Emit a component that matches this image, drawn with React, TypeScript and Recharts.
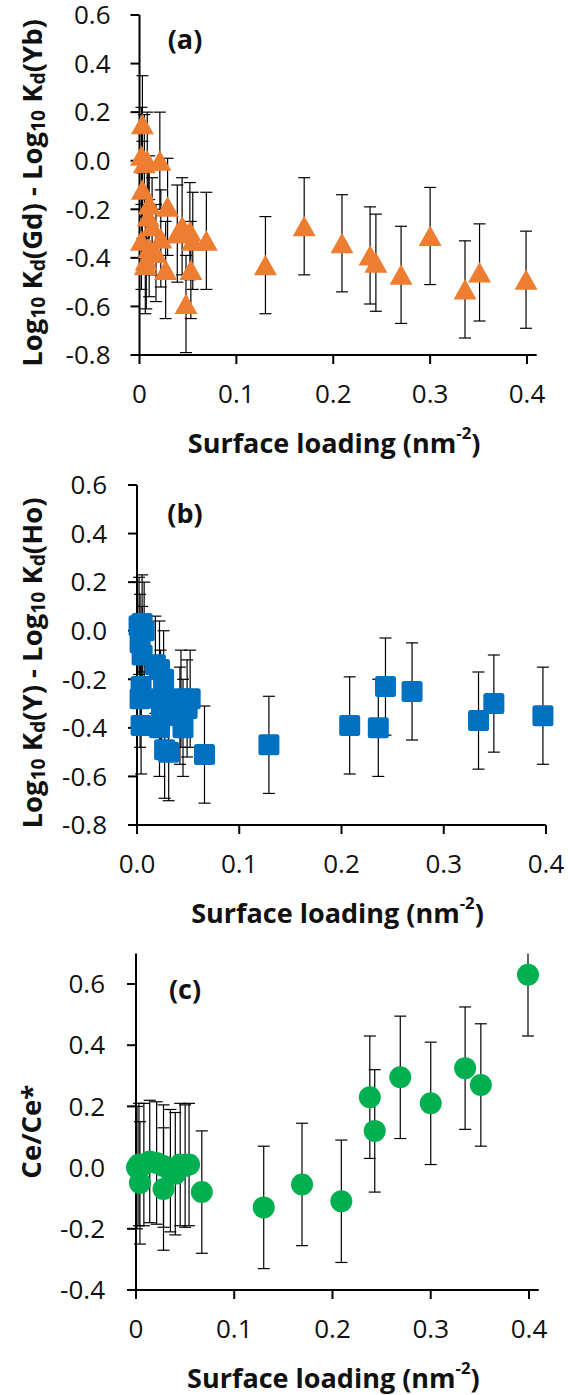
import React from "react";
import { ErrorBar, Label, Scatter, ScatterChart, XAxis, YAxis } from "recharts";

// half-width of every error bar, same for all three panels
const errorBar = 0.2;

// (a) Log10 Kd(Gd) - Log10 Kd(Yb)
const gdYbLoading = [
  0.003, 0.002, 0.005, 0.008, 0.021, 0.003, 0.01, 0.029, 0.009, 0.013, 0.002, 0.039, 0.044, 0.052, 0.055, 0.069,
  0.022, 0.01, 0.017, 0.007, 0.006, 0.027, 0.053, 0.048, 0.13, 0.17, 0.209, 0.238, 0.244, 0.27, 0.3, 0.336, 0.351,
  0.399
];
const gdYbValue = [
  0.15, 0.02, -0.01, 0.0, 0.0, -0.12, -0.18, -0.19, -0.23, -0.27, -0.33, -0.3, -0.27, -0.29, -0.33, -0.33, -0.32,
  -0.36, -0.38, -0.41, -0.43, -0.45, -0.45, -0.59, -0.43, -0.27, -0.34, -0.39, -0.42, -0.47, -0.31, -0.53, -0.46,
  -0.49
];

// (b) Log10 Kd(Y) - Log10 Kd(Ho)
const yHoLoading = [
  0.002, 0.005, 0.007, 0.003, 0.005, 0.018, 0.022, 0.026, 0.004, 0.003, 0.023, 0.043, 0.052, 0.049, 0.024, 0.042,
  0.004, 0.022, 0.045, 0.027, 0.031, 0.066, 0.129, 0.208, 0.236, 0.243, 0.269, 0.334, 0.349, 0.397
];
const yHoValue = [
  0.02, 0.03, 0.0, -0.05, -0.1, -0.14, -0.16, -0.2, -0.23, -0.28, -0.28, -0.28, -0.28, -0.32, -0.32, -0.35, -0.39,
  -0.4, -0.4, -0.49, -0.5, -0.51, -0.47, -0.39, -0.4, -0.23, -0.25, -0.37, -0.3, -0.35
];

// (c) Ce/Ce*
const ceLoading = [
  0.001, 0.003, 0.004, 0.008, 0.014, 0.021, 0.028, 0.028, 0.035, 0.04, 0.045, 0.05, 0.054, 0.067, 0.13, 0.169, 0.209,
  0.238, 0.243, 0.269, 0.3, 0.335, 0.351, 0.399
];
const ceValue = [
  0.0, 0.01, -0.05, 0.01, 0.02, 0.015, 0.005, -0.07, -0.01, -0.02, 0.01, 0.005, 0.01, -0.08, -0.13, -0.055, -0.11,
  0.23, 0.12, 0.295, 0.21, 0.325, 0.27, 0.63
];

const loadingTicks = [0, 0.1, 0.2, 0.3, 0.4];
const kdTicks = [-0.8, -0.6, -0.4, -0.2, 0, 0.2, 0.4, 0.6];
const ceTicks = [-0.4, -0.2, 0, 0.2, 0.4, 0.6];
const ceAxisTop = 0.7;

const font = "'Open Sans', sans-serif";
const ink = "#111";

const gdYbData = gdYbLoading.map((x, i) => ({ x, y: gdYbValue[i], err: errorBar }));
const yHoData = yHoLoading.map((x, i) => ({ x, y: yHoValue[i], err: errorBar }));
// the top of a bar is cut off by the end of the y axis (no cap there)
const ceData = ceLoading.map((x, i) => {
  const y = ceValue[i];
  const cut = y + errorBar > ceAxisTop;
  return {
    x,
    y,
    err: [errorBar, cut ? 0 : errorBar],
    errCut: [0, cut ? ceAxisTop - y : 0]
  };
});

const Triangle = (props: any) => {
  const { cx, cy } = props;
  if (cx == null || cy == null) return null;
  return <polygon points={`${cx},${cy - 10.5} ${cx + 11.5},${cy + 10} ${cx - 11.5},${cy + 10}`} fill="#ED7D31" />;
};

const Square = (props: any) => {
  const { cx, cy } = props;
  if (cx == null || cy == null) return null;
  return <rect x={cx - 10.5} y={cy - 10.5} width={21} height={21} rx={2.5} fill="#0070C0" />;
};

const Dot = (props: any) => {
  const { cx, cy } = props;
  if (cx == null || cy == null) return null;
  return <circle cx={cx} cy={cy} r={11} fill="#00B050" />;
};

const yTitle = (parts: React.ReactNode, shift: number) => (props: any) => {
  const vb = props.viewBox || {};
  const cx = 31;
  const cy = (vb.y ?? 0) + (vb.height ?? 0) / 2 + shift;
  return (
    <text
      x={cx}
      y={cy}
      transform={`rotate(-90 ${cx} ${cy})`}
      textAnchor="middle"
      dominantBaseline="central"
      fontFamily={font}
      fontWeight={700}
      fontSize={27.5}
      fill={ink}
    >
      {parts}
    </text>
  );
};

const xTitle = (props: any) => {
  const vb = props.viewBox || {};
  const cx = (vb.x ?? 0) + (vb.width ?? 0) / 2 - 4;
  const cy = (vb.y ?? 0) + 87;
  return (
    <text x={cx} y={cy} textAnchor="middle" dominantBaseline="central" fontFamily={font} fontWeight={700} fontSize={27} fill={ink}>
      Surface loading (nm
      <tspan fontSize="0.62em" dy={-10}>
        -2
      </tspan>
      <tspan dy={10}>)</tspan>
    </text>
  );
};

const kdGdYb = (
  <>
    Log
    <tspan fontSize="0.7em" dy={6}>10</tspan>
    <tspan dy={-6}> K</tspan>
    <tspan fontSize="0.7em" dy={6}>d</tspan>
    <tspan dy={-6}>(Gd) - Log</tspan>
    <tspan fontSize="0.7em" dy={6}>10</tspan>
    <tspan dy={-6}> K</tspan>
    <tspan fontSize="0.7em" dy={6}>d</tspan>
    <tspan dy={-6}>(Yb)</tspan>
  </>
);

const kdYHo = (
  <>
    Log
    <tspan fontSize="0.7em" dy={6}>10</tspan>
    <tspan dy={-6}> K</tspan>
    <tspan fontSize="0.7em" dy={6}>d</tspan>
    <tspan dy={-6}>(Y) - Log</tspan>
    <tspan fontSize="0.7em" dy={6}>10</tspan>
    <tspan dy={-6}> K</tspan>
    <tspan fontSize="0.7em" dy={6}>d</tspan>
    <tspan dy={-6}>(Ho)</tspan>
  </>
);

const axisLine = { stroke: "#000", strokeWidth: 2 };
const tickStyle = { fill: ink, fontSize: 26, fontFamily: font };
const oneDecimal = (v: number) => v.toFixed(1);
const bareZero = (v: number) => (v === 0 ? "0" : String(v));

const panelTag: React.CSSProperties = {
  position: "absolute",
  left: 185,
  transform: "translate(-50%, -50%)",
  fontFamily: font,
  fontWeight: 700,
  fontSize: 27,
  color: ink,
  lineHeight: 1
};

export default function App() {
  return (
    <div style={{ position: "absolute", left: 0, top: 0, width: 570, height: 1395, background: "#fff" }}>
      {/* (a) */}
      <div style={{ position: "absolute", left: 0, top: 0 }}>
        <ScatterChart width={570} height={465} margin={{ top: 15, right: 33.3, bottom: 0, left: 0 }} style={{ overflow: "visible" }}>
          <XAxis
            type="number"
            dataKey="x"
            domain={[0, 0.41]}
            ticks={loadingTicks}
            interval={0}
            tickFormatter={bareZero}
            axisLine={axisLine}
            tickLine={axisLine}
            tickSize={9}
            tickMargin={21}
            tick={tickStyle}
            height={110}
          >
            <Label content={xTitle} />
          </XAxis>
          <YAxis
            type="number"
            dataKey="y"
            domain={[-0.8, 0.6]}
            ticks={kdTicks}
            interval={0}
            tickFormatter={oneDecimal}
            axisLine={axisLine}
            tickLine={axisLine}
            tickSize={9}
            tickMargin={20}
            tick={tickStyle}
            width={139.5}
          >
            <Label content={yTitle(kdGdYb, 8)} />
          </YAxis>
          <Scatter data={gdYbData} shape={<Triangle />} isAnimationActive={false}>
            <ErrorBar dataKey="err" direction="y" width={6} stroke="#000" strokeWidth={1.2} />
          </Scatter>
        </ScatterChart>
        <div style={{ ...panelTag, top: 38 }}>(a)</div>
      </div>

      {/* (b) */}
      <div style={{ position: "absolute", left: 0, top: 462 }}>
        <ScatterChart width={570} height={468} margin={{ top: 23, right: 24, bottom: 0, left: 0 }}>
          <XAxis
            type="number"
            dataKey="x"
            domain={[0, 0.4]}
            ticks={loadingTicks}
            interval={0}
            tickFormatter={oneDecimal}
            axisLine={axisLine}
            tickLine={axisLine}
            tickSize={9}
            tickMargin={21}
            tick={tickStyle}
            height={105}
          >
            <Label content={xTitle} />
          </XAxis>
          <YAxis
            type="number"
            dataKey="y"
            domain={[-0.8, 0.6]}
            ticks={kdTicks}
            interval={0}
            tickFormatter={oneDecimal}
            axisLine={axisLine}
            tickLine={axisLine}
            tickSize={9}
            tickMargin={21}
            tick={tickStyle}
            width={137}
          >
            <Label content={yTitle(kdYHo, 8)} />
          </YAxis>
          <Scatter data={yHoData} shape={<Square />} isAnimationActive={false}>
            <ErrorBar dataKey="err" direction="y" width={6} stroke="#000" strokeWidth={1.2} />
          </Scatter>
        </ScatterChart>
        <div style={{ ...panelTag, top: 50 }}>(b)</div>
      </div>

      {/* (c) */}
      <div style={{ position: "absolute", left: 0, top: 930 }}>
        <ScatterChart width={570} height={465} margin={{ top: 23.4, right: 31.2, bottom: 0, left: 0 }}>
          <XAxis
            type="number"
            dataKey="x"
            domain={[0, 0.41]}
            ticks={loadingTicks}
            interval={0}
            tickFormatter={bareZero}
            axisLine={axisLine}
            tickLine={axisLine}
            tickSize={9}
            tickMargin={21}
            tick={tickStyle}
            height={105}
          >
            <Label content={xTitle} />
          </XAxis>
          <YAxis
            type="number"
            dataKey="y"
            domain={[-0.4, ceAxisTop]}
            ticks={ceTicks}
            interval={0}
            tickFormatter={oneDecimal}
            axisLine={axisLine}
            tickLine={axisLine}
            tickSize={9}
            tickMargin={22}
            tick={tickStyle}
            width={136}
          >
            <Label content={yTitle(<>Ce/Ce*</>, 10)} />
          </YAxis>
          <Scatter data={ceData} shape={<Dot />} isAnimationActive={false}>
            <ErrorBar dataKey="err" direction="y" width={6} stroke="#000" strokeWidth={1.2} />
            <ErrorBar dataKey="errCut" direction="y" width={0} stroke="#000" strokeWidth={1.2} />
          </Scatter>
        </ScatterChart>
        <div style={{ ...panelTag, top: 58 }}>(c)</div>
      </div>
    </div>
  );
}
